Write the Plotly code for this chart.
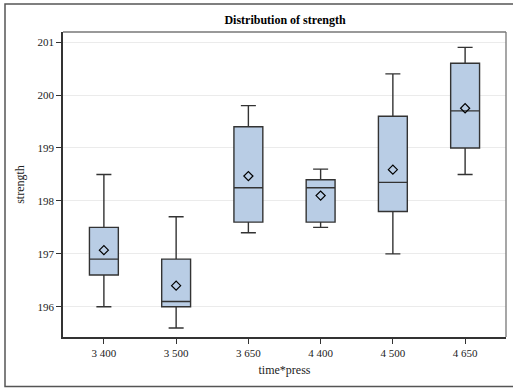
import plotly.graph_objects as go

# Summary statistics of strength for each time*press combination
groups = ["3 400", "3 500", "3 650", "4 400", "4 500", "4 650"]
whisker_low = [196.0, 195.6, 197.4, 197.5, 197.0, 198.5]
q1 = [196.6, 196.0, 197.6, 197.6, 197.8, 199.0]
median = [196.9, 196.1, 198.25, 198.25, 198.35, 199.7]
q3 = [197.5, 196.9, 199.4, 198.4, 199.6, 200.6]
whisker_high = [198.5, 197.7, 199.8, 198.6, 200.4, 200.9]
mean = [197.07, 196.4, 198.47, 198.1, 198.59, 199.75]

y_ticks = [196, 197, 198, 199, 200, 201]

FONT = "Liberation Serif"
W, H = 513, 390
ML, MR, MT, MB = 63, 7, 32, 53
pw, ph = W - ML - MR, H - MT - MB

fig = go.Figure()

fig.add_trace(go.Box(
    x=groups,
    q1=q1,
    median=median,
    q3=q3,
    lowerfence=whisker_low,
    upperfence=whisker_high,
    boxpoints=False,
    width=0.4,
    whiskerwidth=0.52,
    fillcolor="#B9CDE5",
    line=dict(color="#333333", width=1.4),
    showlegend=False,
    hoverinfo="skip",
))

fig.add_trace(go.Scatter(
    x=groups,
    y=mean,
    mode="markers",
    marker=dict(symbol="diamond-open", size=7, color="#000000",
                line=dict(width=1.2, color="#000000")),
    showlegend=False,
    hoverinfo="skip",
))

def px_x(p):
    return (p - ML) / pw

def px_y(p):
    return (H - MB - p) / ph

shapes = [
    # outer border around the whole graph
    dict(type="rect", xref="paper", yref="paper",
         x0=px_x(5), x1=px_x(520), y0=px_y(386.5), y1=px_y(4),
         line=dict(color="#555555", width=1.5), fillcolor="rgba(0,0,0,0)",
         layer="above"),
    # top and right sides of the plot frame
    dict(type="line", xref="paper", yref="paper", x0=0, x1=1, y0=1, y1=1,
         line=dict(color="#777777", width=1.3), layer="above"),
    dict(type="line", xref="paper", yref="paper", x0=1, x1=1, y0=0, y1=1,
         line=dict(color="#777777", width=1.3), layer="above"),
]

fig.update_layout(
    width=W, height=H,
    margin=dict(l=ML, r=MR, t=MT, b=MB),
    paper_bgcolor="white",
    plot_bgcolor="white",
    font=dict(family=FONT, size=11, color="#222222"),
    title=dict(text="<b>Distribution of strength</b>",
               x=285 / W, xanchor="center",
               y=1 - 20 / H, yanchor="middle",
               font=dict(family=FONT, size=12, color="#000000")),
    shapes=shapes,
    xaxis=dict(
        type="category",
        categoryorder="array", categoryarray=groups,
        range=[-0.566, 5.566],
        showline=True, linecolor="#333333", linewidth=1.5,
        ticks="outside", ticklen=5, tickcolor="#333333", tickwidth=1,
        showgrid=False, zeroline=False,
        title=dict(text="time*press", standoff=8,
                   font=dict(family=FONT, size=12, color="#222222")),
        tickfont=dict(family=FONT, size=11, color="#222222"),
    ),
    yaxis=dict(
        range=[195.43, 201.19],
        tickvals=y_ticks,
        showline=True, linecolor="#333333", linewidth=1.5,
        ticks="outside", ticklen=5, tickcolor="#333333", tickwidth=1,
        showgrid=True, gridcolor="#EBEBEB", gridwidth=1,
        zeroline=False,
        title=dict(text="strength", standoff=10,
                   font=dict(family=FONT, size=12, color="#222222")),
        tickfont=dict(family=FONT, size=11, color="#222222"),
    ),
)

fig.write_html("out.html")
